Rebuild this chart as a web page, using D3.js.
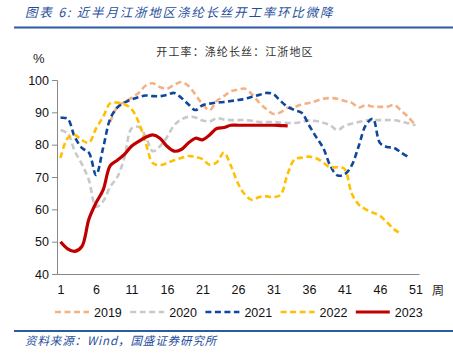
<!DOCTYPE html>
<html>
<head>
<meta charset="utf-8">
<script src="https://cdn.jsdelivr.net/npm/d3@7"></script>
<style>
  body { margin: 0; background: #fff; }
  svg { display: block; }
</style>
</head>
<body>
<svg width="453" height="363"></svg>
<script>
var weeks = [1,2,3,4,5,6,7,8,9,10,11,12,13,14,15,16,17,18,19,20,21,22,23,24,25,26,27,28,29,30,31,32,33,34,35,36,37,38,39,40,41,42,43,44,45,46,47,48,49,50,51];
var xTicks = [1,6,11,16,21,26,31,36,41,46,51];
var yTicks = [40,50,60,70,80,90,100];

var s2019 = [null,null,null,null,null,null,null,87,91.7,93.2,94.5,96,98.3,99,97.8,97.3,98.5,99.4,98.2,95.5,92.5,90.7,93.5,95,96.5,97,97.3,95.5,93,91,89.5,90,91.4,91.7,92.5,92.9,93.5,94.2,94.4,94.2,93.5,93,91.5,92.2,91.8,91.7,91.7,92.3,90.5,88.5,86];
var s2020 = [84.5,83.5,78,74,69,60.8,62.5,67,70,76,85,85.5,82.5,78,79.5,82.4,86,87.8,88.6,88.4,87.5,87.2,88.2,87.8,87.6,87.6,87.6,87.4,87,87,87,86.8,86.7,86.7,87,87.5,87.3,86.8,86,84.5,85.8,86.5,87,87.5,87.6,87.6,87.6,87.6,87.2,86.6,86];
var s2021 = [88.3,88,82.4,79,77.5,70.6,79,88,91.5,93,94,94.7,95.2,95,95,95.4,96,94.5,92.5,90.7,92.2,92.7,93,93.2,93.5,93.8,94.2,94.8,95.4,96,95.6,93.5,91.7,90.7,89.8,86,82.4,79,73.5,70.5,70.8,73.5,79.5,86,88,80.5,79.3,79,77.5,76.2,null];
var s2022 = [75.9,82,83,81.4,80.6,85,88.6,92.8,93,92.5,91,87,80.5,74.3,73.7,74.3,75.2,75.9,76.5,76.2,75.5,73.8,74.5,77.5,73.5,68,64.5,62.9,63.8,64,63.8,64.5,71,75.5,76,76.3,75.8,74.5,73,73,72.5,65,61.5,60,59,58,56,53.8,52.4,null,null];
var s2023 = [50,47.8,47,48.5,57,62,66,73.5,75.2,77,79.5,81,82.3,83,82,79.5,78,78.5,80.5,82,81.5,83,85,85.3,86,86,86,86,86,86,86,85.9,85.8,null,null,null,null,null,null,null,null,null,null,null,null,null,null,null,null,null,null];

var series = [
  { name: "2019", values: s2019, color: "#F4B183", dash: "6,3.5", width: 2.6 },
  { name: "2020", values: s2020, color: "#C9C9C9", dash: "6,3.5", width: 2.6 },
  { name: "2021", values: s2021, color: "#0E479B", dash: "6,3.5", width: 2.6 },
  { name: "2022", values: s2022, color: "#FFC000", dash: "6,3.5", width: 2.6 },
  { name: "2023", values: s2023, color: "#C00000", dash: null, width: 3.2 }
];

var svg = d3.select("svg");
var blue = "#2E5AA0";
var cjk = "'Noto Sans CJK SC', sans-serif";
var latin = "'Liberation Sans', Arial, sans-serif";

// header
svg.append("text")
  .attr("x", 25).attr("y", 17)
  .attr("font-family", cjk)
  .attr("font-style", "italic")
  .attr("font-size", "12.5px")
  .attr("letter-spacing", "1.8px")
  .attr("fill", "#1F4E9C")
  .text("图表 6:  近半月江浙地区涤纶长丝开工率环比微降");

svg.append("line")
  .attr("x1", 14).attr("x2", 453)
  .attr("y1", 27.5).attr("y2", 27.5)
  .attr("stroke", blue).attr("stroke-width", 2);

svg.append("text")
  .attr("x", 235).attr("y", 56)
  .attr("text-anchor", "middle")
  .attr("font-family", cjk)
  .attr("font-size", "11px")
  .attr("letter-spacing", "1.1px")
  .attr("fill", "#333")
  .text("开工率：涤纶长丝：江浙地区");

svg.append("text")
  .attr("x", 33).attr("y", 63)
  .attr("font-family", latin)
  .attr("font-size", "13px")
  .attr("fill", "#222")
  .text("%");

var x = d3.scalePoint().domain(weeks).range([57, 419]).padding(0.5);
var y = d3.scaleLinear().domain([40, 100]).range([274, 80]);

// y axis
var yAxis = svg.append("g")
  .attr("transform", "translate(57,0)")
  .call(d3.axisLeft(y).tickValues(yTicks).tickSize(5).tickPadding(3));
yAxis.select(".domain").attr("stroke", "#888");
yAxis.selectAll(".tick line").attr("stroke", "#888");
yAxis.selectAll("text")
  .attr("font-family", latin)
  .attr("font-size", "12.5px")
  .attr("fill", "#111");

// x axis
var xAxis = svg.append("g")
  .attr("transform", "translate(0,274)")
  .call(d3.axisBottom(x).tickValues(xTicks).tickSize(0).tickPadding(11));
xAxis.select(".domain").attr("stroke", "#888").attr("stroke-width", 1.2);
xAxis.selectAll("text")
  .attr("font-family", latin)
  .attr("font-size", "12.5px")
  .attr("fill", "#111");

svg.append("text")
  .attr("x", 432).attr("y", 295)
  .attr("font-family", cjk)
  .attr("font-size", "12px")
  .attr("fill", "#222")
  .text("周");

// lines
var line = d3.line()
  .defined(function (d) { return d.v != null; })
  .x(function (d) { return x(d.w); })
  .y(function (d) { return y(d.v); })
  .curve(d3.curveCatmullRom.alpha(0.5));

series.forEach(function (s) {
  var pts = weeks.map(function (w, i) { return { w: w, v: s.values[i] }; });
  svg.append("path")
    .datum(pts)
    .attr("fill", "none")
    .attr("stroke", s.color)
    .attr("stroke-width", s.width)
    .attr("stroke-dasharray", s.dash)
    .attr("stroke-linejoin", "round")
    .attr("d", line);
});

// legend
var legend = svg.append("g").attr("transform", "translate(55,312)");
series.forEach(function (s, i) {
  var g = legend.append("g").attr("transform", "translate(" + (i * 75.2) + ",0)");
  g.append("line")
    .attr("x1", 0).attr("x2", 34)
    .attr("stroke", s.color)
    .attr("stroke-width", s.dash ? 2.6 : 3.2)
    .attr("stroke-dasharray", s.dash ? "6,3.5" : null);
  g.append("text")
    .attr("x", 39).attr("y", 4.5)
    .attr("font-family", latin)
    .attr("font-size", "12.5px")
    .attr("fill", "#111")
    .text(s.name);
});

// footer
svg.append("line")
  .attr("x1", 14).attr("x2", 453)
  .attr("y1", 331).attr("y2", 331)
  .attr("stroke", blue).attr("stroke-width", 2);

svg.append("text")
  .attr("x", 25).attr("y", 345)
  .attr("font-family", cjk)
  .attr("font-style", "italic")
  .attr("font-size", "11.5px")
  .attr("letter-spacing", "0.9px")
  .attr("fill", "#1F4E9C")
  .text("资料来源：Wind，国盛证券研究所");
</script>
</body>
</html>
